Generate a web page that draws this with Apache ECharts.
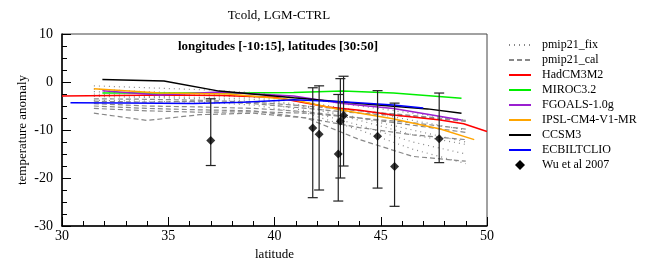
<!DOCTYPE html>
<html>
<head>
<meta charset="utf-8">
<script src="https://cdn.jsdelivr.net/npm/echarts@6/dist/echarts.min.js"></script>
<style>
  html, body { margin: 0; padding: 0; background: #fff; }
  #main { width: 649px; height: 261px; }
</style>
</head>
<body>
<div id="main"></div>
<script>
// pmip21 runs (gray), sampled on a common latitude grid
const pmipLat = [31.5, 34, 36.5, 39, 41.5, 44, 46.5, 49];
const fixRuns = [
  [-0.8, -1.2, -1.6, -2.2, -3.5, -5.0, -6.5, -8.0],
  [-2.0, -2.4, -2.8, -3.2, -5.0, -7.5, -10.0, -12.5],
  [-3.0, -3.2, -3.5, -4.0, -6.0, -9.0, -12.5, -15.0],
  [-3.8, -4.0, -4.2, -4.8, -6.5, -10.0, -14.0, -17.0],
  [-2.5, -3.0, -3.2, -3.6, -5.2, -8.0, -11.0, -13.0],
  [-1.5, -2.0, -2.5, -3.0, -4.2, -6.0, -8.0, -10.0]
];
const calRuns = [
  [-5.5, -6.0, -6.3, -6.2, -6.5, -7.5, -8.5, -9.8],
  [-6.5, -8.0, -6.8, -6.5, -7.5, -12.0, -15.5, -16.5],
  [-4.0, -4.2, -4.0, -4.5, -5.5, -6.5, -7.2, -8.2],
  [-4.5, -5.0, -5.2, -5.5, -6.2, -7.5, -9.0, -10.5],
  [-3.5, -3.6, -3.8, -4.2, -5.0, -6.0, -7.0, -8.0],
  [-5.0, -5.5, -5.8, -6.0, -7.5, -9.5, -11.0, -12.0]
];

// coloured models
const hadLat = [30, 32.5, 35, 37.5, 40, 42.5, 44, 45.5, 47.8, 48.9, 50];
const hadT = [-2.9, -2.8, -2.7, -2.8, -3.2, -5.2, -5.9, -6.8, -7.9, -8.7, -10.3];
const mirocLat = [31.9, 35, 38, 40.9, 43.2, 45.6, 48.8];
const mirocT = [-2.3, -2.3, -2.3, -2.2, -1.9, -2.3, -3.4];
const fgoalsLat = [31.9, 34.6, 37.4, 40.9, 43.2, 45.6, 48.8];
const fgoalsT = [-1.8, -2.7, -2.1, -2.9, -4.5, -5.5, -7.9];
const ipslLat = [31.5, 34.6, 37.8, 40.9, 43.2, 45.5, 47.8, 49.4];
const ipslT = [-1.4, -2.3, -2.5, -3.7, -5.9, -7.6, -9.8, -12.0];
const ccsmLat = [31.9, 34.8, 37.4, 40.9, 44.0, 47.2, 48.8];
const ccsmT = [0.5, 0.2, -1.9, -3.3, -4.5, -5.6, -6.5];
const ecbLat = [30.4, 33, 36.2, 38.5, 40.9, 43.2, 45.6, 47.0];
const ecbT = [-4.3, -4.4, -4.5, -4.2, -3.7, -4.1, -4.8, -5.4];

// Wu et al 2007 reconstructions with error range
const wuLat = [37.0, 41.8, 42.1, 43.0, 43.1, 43.25, 44.85, 45.65, 47.75];
const wuT = [-12.2, -9.6, -10.9, -15.0, -8.2, -7.0, -11.3, -17.6, -11.8];
const wuLow = [-17.4, -24.1, -22.5, -24.8, -20.0, -17.5, -22.1, -25.9, -16.8];
const wuHigh = [-3.5, -1.2, -0.8, -2.6, 0.7, 1.2, -1.8, -4.4, -2.3];

const serif = 'Liberation Serif';
const pairs = (xs, ys) => xs.map((x, i) => [x, ys[i]]);

const lineSeries = (name, xs, ys, color, type) => ({
  name: name,
  type: 'line',
  data: pairs(xs, ys),
  symbol: 'none',
  lineStyle: { color: color, width: type === 'solid' ? 1.5 : 1.2, type: type },
  itemStyle: { color: color },
  z: type === 'solid' ? 3 : 2,
  silent: true,
});

const grayRuns = [
  ...fixRuns.map((r) => lineSeries('pmip21_fix', pmipLat, r, '#888', [1, 4])),
  ...calRuns.map((r) => lineSeries('pmip21_cal', pmipLat, r, '#888', [5, 3])),
];

const models = [
  lineSeries('HadCM3M2', hadLat, hadT, '#ff0000', 'solid'),
  lineSeries('MIROC3.2', mirocLat, mirocT, '#00ee00', 'solid'),
  lineSeries('FGOALS-1.0g', fgoalsLat, fgoalsT, '#9a1fd0', 'solid'),
  lineSeries('IPSL-CM4-V1-MR', ipslLat, ipslT, '#ffa500', 'solid'),
  lineSeries('CCSM3', ccsmLat, ccsmT, '#000000', 'solid'),
  lineSeries('ECBILTCLIO', ecbLat, ecbT, '#0000ff', 'solid'),
];

const errorBars = {
  type: 'custom',
  name: 'wu_err',
  data: wuLat.map((x, i) => [x, wuLow[i], wuHigh[i]]),
  z: 4,
  silent: true,
  renderItem: (params, api) => {
    const lo = api.coord([api.value(0), api.value(1)]);
    const hi = api.coord([api.value(0), api.value(2)]);
    const w = 5;
    const st = { stroke: '#222', lineWidth: 1.2 };
    return {
      type: 'group',
      children: [
        { type: 'line', shape: { x1: lo[0], y1: lo[1], x2: hi[0], y2: hi[1] }, style: st },
        { type: 'line', shape: { x1: lo[0] - w, y1: lo[1], x2: lo[0] + w, y2: lo[1] }, style: st },
        { type: 'line', shape: { x1: hi[0] - w, y1: hi[1], x2: hi[0] + w, y2: hi[1] }, style: st },
      ],
    };
  },
};

const wuPoints = {
  name: 'Wu et al 2007',
  type: 'scatter',
  data: pairs(wuLat, wuT),
  symbol: 'diamond',
  symbolSize: 9,
  itemStyle: { color: '#000' },
  z: 5,
  silent: true,
};

const myChart = echarts.init(document.getElementById('main'));

const option = {
  animation: false,
  textStyle: { fontFamily: serif },
  title: [
    {
      text: 'Tcold, LGM-CTRL',
      left: 274,
      top: 4,
      textAlign: 'center',
      textStyle: { fontFamily: serif, fontSize: 13, fontWeight: 'normal', color: '#000' },
    },
    {
      text: 'longitudes [-10:15], latitudes [30:50]',
      left: 273,
      top: 35,
      textAlign: 'center',
      textStyle: { fontFamily: serif, fontSize: 13, fontWeight: 'bold', color: '#000' },
    },
  ],
  legend: {
    orient: 'vertical',
    left: 508,
    top: 39,
    padding: 0,
    itemWidth: 22,
    itemHeight: 10,
    itemGap: 3,
    itemStyle: { opacity: 0 },
    lineStyle: { width: 2 },
    data: ['pmip21_fix', 'pmip21_cal', 'HadCM3M2', 'MIROC3.2', 'FGOALS-1.0g',
      'IPSL-CM4-V1-MR', 'CCSM3', 'ECBILTCLIO',
      {
        name: 'Wu et al 2007',
        icon: 'path://M5,0 L10,5 L5,10 L0,5 Z',
        itemStyle: { color: '#000', opacity: 1 },
      }],
    textStyle: { fontFamily: serif, fontSize: 12, color: '#000', padding: [0, 0, 0, 6] },
    selectedMode: false,
  },
  grid: {
    left: 62,
    right: 162,
    top: 34,
    bottom: 35,
    outerBoundsMode: 'none',
    containLabel: false,
    show: true,
    borderColor: '#444',
    borderWidth: 1,
  },
  xAxis: {
    type: 'value',
    min: 30,
    max: 50,
    interval: 5,
    name: 'latitude',
    nameLocation: 'middle',
    nameGap: 20,
    nameTextStyle: { fontFamily: serif, fontSize: 13, color: '#000' },
    axisLine: { onZero: false, lineStyle: { color: '#000', width: 1.5 } },
    axisTick: { inside: true, length: 9, lineStyle: { color: '#000' } },
    minorTick: { show: true, splitNumber: 5, length: 5, lineStyle: { color: '#000' } },
    axisLabel: { fontFamily: serif, fontSize: 14, color: '#000', margin: 3 },
    splitLine: { show: false },
  },
  yAxis: {
    type: 'value',
    min: -30,
    max: 10,
    interval: 10,
    name: 'temperature anomaly',
    nameLocation: 'middle',
    nameGap: 33,
    nameMoveOverlap: false,
    nameTextStyle: { fontFamily: serif, fontSize: 13, color: '#000' },
    axisLine: { show: true, onZero: false, lineStyle: { color: '#000', width: 1.5 } },
    axisTick: { show: true, inside: true, length: 9, lineStyle: { color: '#000' } },
    minorTick: { show: true, splitNumber: 4, length: 5, lineStyle: { color: '#000' } },
    axisLabel: { fontFamily: serif, fontSize: 14, color: '#000', margin: 9 },
    splitLine: { show: false },
  },
  series: [...grayRuns, ...models, errorBars, wuPoints],
};

myChart.setOption(option);
</script>
</body>
</html>
